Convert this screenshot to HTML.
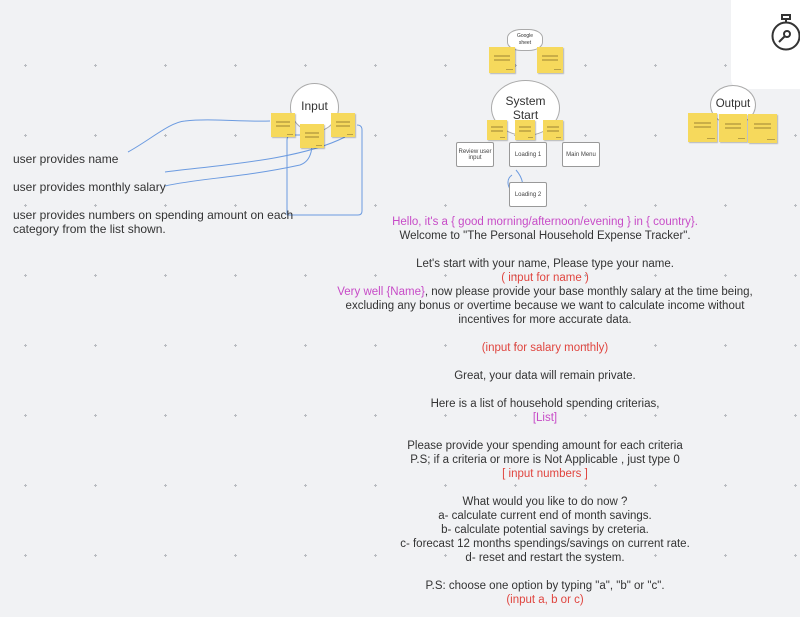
<!DOCTYPE html>
<html><head><style>
body{margin:0;width:800px;height:617px;background:#f1f2f4;position:relative;overflow:hidden;font-family:"Liberation Sans",sans-serif;}
.dot{position:absolute;width:3px;height:1px;background:#b8bbc0}
.dot:after{content:"";position:absolute;left:1px;top:-1px;width:1px;height:3px;background:#b8bbc0}
.t{position:absolute;font-size:12px;color:#333;}
.c{position:absolute;left:300px;width:490px;text-align:center;font-size:11.5px;color:#333;line-height:14px}
.m{color:#c74bc7}.r{color:#e0453f}
.st{position:absolute;background:#f6d95c;box-shadow:1px 1px 1px rgba(0,0,0,.25)}
.st:before{content:"";position:absolute;left:20%;top:32%;width:60%;height:2px;background:#c9ae48;box-shadow:0 4px 0 #c9ae48}
.st:after{content:"";position:absolute;right:8%;bottom:10%;width:25%;height:1px;background:#b8a045}
.box{position:absolute;background:#fff;border:1px solid #999;border-radius:2px;font-size:6px;color:#444;display:flex;align-items:center;justify-content:center;text-align:center}
.circ{position:absolute;background:#fff;border:1px solid #aaa;border-radius:50%;text-align:center;color:#333}
</style></head><body>
<div id="dots"></div>
<script>
var s='';for(var x=25;x<800;x+=70)for(var y=65;y<617;y+=70)s+='<div class="dot" style="left:'+(x-1)+'px;top:'+y+'px"></div>';document.getElementById('dots').innerHTML=s;
</script>
<div style="position:absolute;left:731px;top:-10px;width:90px;height:99px;background:#fff;border-radius:10px"></div>
<svg style="position:absolute;left:765px;top:10px" width="35" height="45"><circle cx="21" cy="26" r="13.5" fill="none" stroke="#333" stroke-width="2"/><rect x="17" y="5" width="8" height="4" fill="none" stroke="#333" stroke-width="2"/><line x1="21" y1="9" x2="21" y2="12" stroke="#333" stroke-width="2"/><circle cx="22" cy="24" r="3" fill="none" stroke="#333" stroke-width="2"/><line x1="20" y1="26" x2="14" y2="32" stroke="#333" stroke-width="2"/></svg>

<div class="circ" style="left:290px;top:83px;width:47px;height:47px;font-size:12px;line-height:44px">Input</div>
<div class="circ" style="left:491px;top:80px;width:67px;height:54px;font-size:12px;line-height:14px"><div style="margin-top:13px">System<br>Start</div></div>
<div class="circ" style="left:710px;top:85px;width:44px;height:38px;font-size:11.5px;line-height:36px">Output</div>
<div class="circ" style="left:507px;top:29px;width:36px;height:22px;border-radius:40%;font-size:5px;line-height:7px;padding-top:3px;box-sizing:border-box">Google<br>sheet</div>

<svg style="position:absolute;left:0;top:0" width="800" height="617" fill="none" stroke="#6c9be0" stroke-width="1">
<path d="M128 152 C150 140,170 122,185 121 C210 118,240 122,270 121"/>
<path d="M165 186 C200 178,240 178,300 165 C315 160,312 140,312 130"/>
<path d="M165 172 C220 165,300 160,345 137"/>
<path d="M287 215 L287 140 Q287 135 292 135 L300 135 M287 215 L358 215 Q362 215 362 211 L362 130 Q362 125 357 125"/>
<path d="M512 175 C505 180,508 190,515 193 M520 193 C525 188,523 178,516 170"/>
</svg>

<div class="st" style="left:271px;top:113px;width:24px;height:24px"></div>
<div class="st" style="left:300px;top:124px;width:24px;height:24px"></div>
<div class="st" style="left:331px;top:113px;width:24px;height:24px"></div>
<div class="st" style="left:489px;top:47px;width:26px;height:26px"></div>
<div class="st" style="left:537px;top:47px;width:26px;height:26px"></div>
<div class="st" style="left:487px;top:120px;width:20px;height:20px"></div>
<div class="st" style="left:515px;top:120px;width:20px;height:20px"></div>
<div class="st" style="left:543px;top:120px;width:20px;height:20px"></div>
<div class="st" style="left:688px;top:113px;width:29px;height:29px"></div>
<div class="st" style="left:719px;top:114px;width:28px;height:28px"></div>
<div class="st" style="left:748px;top:114px;width:29px;height:29px"></div>

<div class="box" style="left:456px;top:142px;width:36px;height:23px">Review user<br>input</div>
<div class="box" style="left:509px;top:142px;width:36px;height:23px">Loading 1</div>
<div class="box" style="left:562px;top:142px;width:36px;height:23px">Main Menu</div>
<div class="box" style="left:509px;top:182px;width:36px;height:23px">Loading 2</div>

<div class="t" style="left:13px;top:152px">user provides name</div>
<div class="t" style="left:13px;top:180px">user provides monthly salary</div>
<div class="t" style="left:13px;top:208px;width:290px;line-height:14px">user provides numbers on spending amount on each category from the list shown.</div>

<div class="c" style="top:215px">
<span class="m">Hello, it's a { good morning/afternoon/evening } in { country}.</span><br>
Welcome to "The Personal Household Expense Tracker".<br><br>
Let's start with your name, Please type your name.<br>
<span class="r">( input for name )</span><br>
<span class="m">Very well {Name}</span>, now please provide your base monthly salary at the time being,<br>
excluding any bonus or overtime because we want to calculate income without<br>
incentives for more accurate data.<br><br>
<span class="r">(input for salary monthly)</span><br><br>
Great, your data will remain private.<br><br>
Here is a list of household spending criterias,<br>
<span class="m">[List]</span><br><br>
Please provide your spending amount for each criteria<br>
P.S; if a criteria or more is Not Applicable , just type 0<br>
<span class="r">[ input numbers ]</span><br><br>
What would you like to do now ?<br>
a- calculate current end of month savings.<br>
b- calculate potential savings by creteria.<br>
c- forecast 12 months spendings/savings on current rate.<br>
d- reset and restart the system.<br><br>
P.S: choose one option by typing "a", "b" or "c".<br>
<span class="r">(input a, b or c)</span>
</div>
</body></html>
